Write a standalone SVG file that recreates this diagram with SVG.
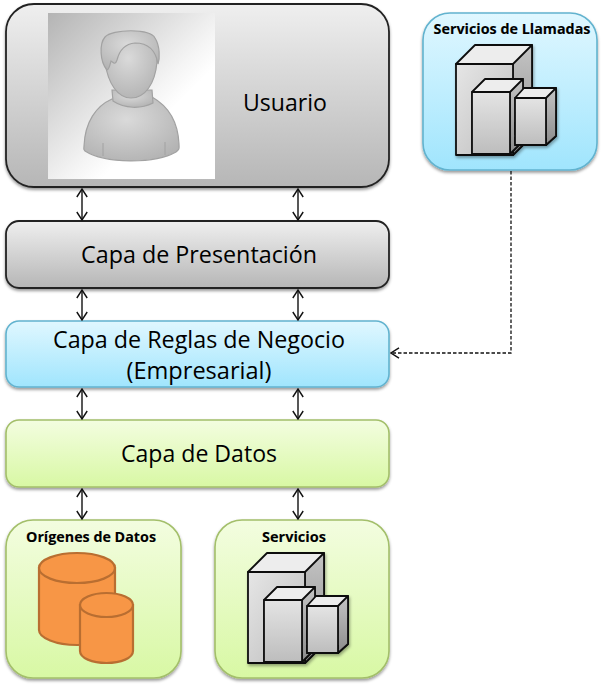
<svg xmlns="http://www.w3.org/2000/svg" xmlns:xlink="http://www.w3.org/1999/xlink" width="604" height="687" viewBox="0 0 604 687">
<style>
text{font-family:"Open Sans","Noto Sans","Liberation Sans",sans-serif;fill:#000;text-anchor:middle}
.big{font-size:24px}
.small{font-size:14.5px;font-weight:700;stroke:#000;stroke-width:.1px}
.gray{fill:url(#gGray);stroke:#222;stroke-width:1.8}
.blue{fill:url(#gBlue);stroke:#62b3cf;stroke-width:1.6}
.green{fill:url(#gGreen);stroke:#a3bf6a;stroke-width:1.6}
.box{filter:url(#sh)}
.link{fill:none;stroke:#111;stroke-width:1.4;marker-start:url(#arr);marker-end:url(#arr)}
.dash{fill:none;stroke:#111;stroke-width:1.3;stroke-dasharray:3.5 2;marker-end:url(#arr)}
.c{stroke:#111;stroke-width:1.8;stroke-linejoin:round}
.cyl{fill:#f79646;stroke:#b96e31;stroke-width:2.2}
.per{fill:url(#gPer);stroke:#a2a2a2;stroke-width:1.2}
</style>
<defs>
<linearGradient id="gGray" x1="0" y1="0" x2="0" y2="1"><stop offset="0" stop-color="#efefef"/><stop offset="1" stop-color="#b6b6b6"/></linearGradient>
<linearGradient id="gBlue" x1="0" y1="0" x2="0" y2="1"><stop offset="0" stop-color="#e0f7ff"/><stop offset="1" stop-color="#a0e5fd"/></linearGradient>
<linearGradient id="gGreen" x1="0" y1="0" x2="0" y2="1"><stop offset="0" stop-color="#f3fde0"/><stop offset="1" stop-color="#d8f8a4"/></linearGradient>
<linearGradient id="gImg" x1="0" y1="0" x2="1" y2="1"><stop offset="0" stop-color="#b4b4b4"/><stop offset=".55" stop-color="#f4f4f4"/><stop offset=".66" stop-color="#fff"/></linearGradient>
<radialGradient id="gPer" cx=".45" cy=".35" r=".75"><stop offset="0" stop-color="#dadada"/><stop offset="1" stop-color="#b0b0b0"/></radialGradient>
<linearGradient id="f1" x1="0" y1="0" x2="1" y2="1"><stop offset="0" stop-color="#e6e6e6"/><stop offset="1" stop-color="#bcbcbc"/></linearGradient>
<linearGradient id="f2" x1="0" y1="0" x2="0" y2="1"><stop offset="0" stop-color="#e4e4e4"/><stop offset="1" stop-color="#bdbdbd"/></linearGradient>
<linearGradient id="s1" x1="0" y1="0" x2="0" y2="1"><stop offset="0" stop-color="#c4c4c4"/><stop offset="1" stop-color="#8c8c8c"/></linearGradient>
<filter id="sh" x="-10%" y="-10%" width="120%" height="125%"><feDropShadow dx="0" dy="2" stdDeviation="1.6" flood-color="#000" flood-opacity=".4"/></filter>
<filter id="sh2" x="-10%" y="-10%" width="125%" height="125%"><feDropShadow dx="1" dy="2" stdDeviation="1.5" flood-color="#000" flood-opacity=".35"/></filter>
<marker id="arr" viewBox="0 0 10 12" refX="9" refY="6" markerWidth="10" markerHeight="12" markerUnits="userSpaceOnUse" orient="auto-start-reverse"><path d="M1 .8L9 6L1 11.2" fill="none" stroke="#111" stroke-width="1.4"/></marker>
<g id="servers" filter="url(#sh2)">
<path class="c" d="M456 64L475 45H532V136L513 155Z" fill="#ededed"/>
<path class="c" d="M513 64L532 45V136L513 155Z" fill="url(#s1)"/>
<rect class="c" x="456" y="64" width="57" height="91" fill="url(#f1)"/>
<path class="c" d="M472 92L485 79H523V141L510 154H472Z" fill="#ededed"/>
<path class="c" d="M510 92L523 79V141L510 154Z" fill="url(#s1)"/>
<rect class="c" x="472" y="92" width="38" height="62" fill="url(#f2)"/>
<path class="c" d="M515 98L524 88H556V136L546 145H515Z" fill="#ededed"/>
<path class="c" d="M546 98L556 88V136L546 145Z" fill="url(#s1)"/>
<rect class="c" x="515" y="98" width="31" height="47" fill="url(#f2)"/>
</g>
</defs>
<rect width="604" height="687" fill="#fff"/>
<g id="usuario">
<rect class="gray box" x="6" y="4" width="383" height="183" rx="28"/>
<rect x="48" y="13" width="167" height="166" fill="url(#gImg)"/>
<path class="per" d="M112 99C96 106 85 122 84 146C84 149 83 149 85 151C105 164 155 164 176 152C180 149 179 148 179 144C178 122 168 106 152 97Z"/>
<path class="per" d="M112 90L113 101C125 109 141 109 153 103L152 90Z"/>
<path class="per" d="M105 62C108 84 118 98 131 98C145 98 155 84 157 62C158 45 148 36 130 37C114 38 104 48 105 62Z"/>
<path class="per" d="M107 70C100 62 99 44 105 37C112 29 150 28 155 38C160 46 160 58 158 64C156 52 149 43 135 43C124 44 119 52 117 60C115 66 113 62 111 61C110 65 109 70 107 70Z"/>
<path fill="none" stroke="#a2a2a2" d="M103 143V156M165 142V155"/>
<text class="big" x="285" y="111" textLength="84" lengthAdjust="spacingAndGlyphs">Usuario</text>
</g>
<g id="presentacion">
<rect class="gray box" x="6" y="221" width="383" height="67" rx="13"/>
<text class="big" x="199" y="263" textLength="236" lengthAdjust="spacingAndGlyphs">Capa de Presentación</text>
</g>
<g id="reglas">
<rect class="blue box" x="6" y="321" width="383" height="66" rx="13"/>
<text class="big" x="199" y="348" textLength="292" lengthAdjust="spacingAndGlyphs">Capa de Reglas de Negocio</text>
<text class="big" x="199" y="379" textLength="145" lengthAdjust="spacingAndGlyphs">(Empresarial)</text>
</g>
<g id="datos">
<rect class="green box" x="6" y="420" width="383" height="67" rx="13"/>
<text class="big" x="199" y="462" textLength="156" lengthAdjust="spacingAndGlyphs">Capa de Datos</text>
</g>
<g id="llamadas">
<rect class="blue box" x="423" y="13" width="174" height="157" rx="27"/>
<text class="small" x="512" y="34" textLength="157" lengthAdjust="spacingAndGlyphs">Servicios de Llamadas</text>
<use href="#servers" xlink:href="#servers"/>
</g>
<g id="origenes">
<rect class="green box" x="6" y="520" width="175" height="158" rx="27"/>
<text class="small" x="91" y="542" textLength="130" lengthAdjust="spacingAndGlyphs">Orígenes de Datos</text>
<path class="cyl" d="M39 568V630C39 638 56 645 77 645C98 645 115 638 115 630V568Z"/>
<ellipse class="cyl" cx="77" cy="568" rx="38" ry="15"/>
<path class="cyl" d="M80 605V651C80 658 92 663 106.500 663C121 663 133 658 133 651V605Z"/>
<ellipse class="cyl" cx="106.500" cy="605" rx="26.500" ry="12"/>
</g>
<g id="servicios">
<rect class="green box" x="215" y="520" width="174" height="158" rx="27"/>
<text class="small" x="294" y="542" textLength="64" lengthAdjust="spacingAndGlyphs">Servicios</text>
<use href="#servers" xlink:href="#servers" transform="translate(-208 508)"/>
</g>
<g id="connectors">
<path class="link" d="M82 189V220"/><path class="link" d="M298 189V220"/>
<path class="link" d="M82 290V320"/><path class="link" d="M298 290V320"/>
<path class="link" d="M82 389V419"/><path class="link" d="M298 389V419"/>
<path class="link" d="M82 489V519"/><path class="link" d="M298 489V519"/>
<path class="dash" d="M511 171V353H391"/>
</g>
</svg>
